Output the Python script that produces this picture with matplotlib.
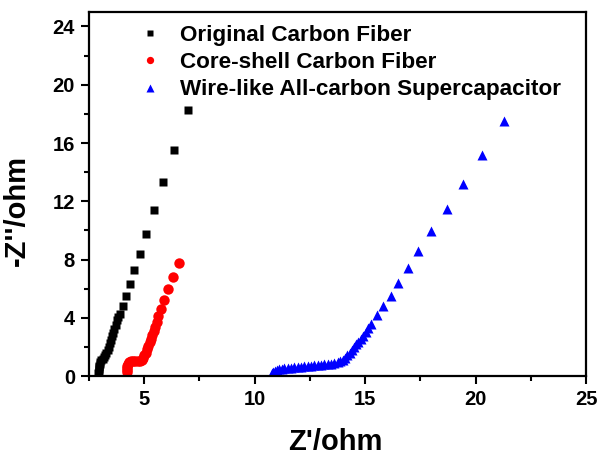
import matplotlib
matplotlib.use("Agg")
import matplotlib.pyplot as plt
from matplotlib.ticker import MultipleLocator

# Nyquist data, Z' (ohm) and -Z'' (ohm)
orig_x = [2.92, 2.93, 2.94, 2.95, 2.96, 2.98, 3.01, 3.06, 3.12, 3.18, 3.24, 3.29,
          3.34, 3.39, 3.44, 3.49, 3.54, 3.59, 3.64, 3.70, 3.76, 3.83, 3.90, 4.02,
          4.17, 4.34, 4.55, 4.79, 5.07, 5.43, 5.85, 6.35, 6.96]
orig_y = [0.22, 0.35, 0.48, 0.60, 0.72, 0.85, 0.98, 1.10, 1.20, 1.30, 1.45, 1.62,
          1.82, 2.03, 2.25, 2.48, 2.72, 2.97, 3.23, 3.52, 3.84, 4.05, 4.23, 4.78,
          5.47, 6.29, 7.30, 8.40, 9.77, 11.37, 13.29, 15.54, 18.24]

core_x = [4.20, 4.20, 4.21, 4.22, 4.25, 4.31, 4.40, 4.50, 4.60, 4.70, 4.80, 4.88,
          4.95, 5.01, 5.07, 5.13, 5.19, 5.25, 5.31, 5.37, 5.43, 5.49, 5.56, 5.62,
          5.75, 5.90, 6.08, 6.31, 6.56]
core_y = [0.25, 0.40, 0.55, 0.70, 0.85, 0.97, 1.03, 1.05, 1.05, 1.05, 1.07, 1.12,
          1.25, 1.42, 1.62, 1.85, 2.08, 2.33, 2.58, 2.84, 3.10, 3.37, 3.70, 4.12,
          4.62, 5.24, 6.00, 6.82, 7.78]

wire_x = [10.80, 10.85, 10.92, 11.00, 11.10, 11.22, 11.35, 11.50, 11.65, 11.80,
          11.95, 12.10, 12.25, 12.40, 12.55, 12.70, 12.85, 13.00, 13.15, 13.30,
          13.45, 13.60, 13.75, 13.88, 14.00, 14.10, 14.20, 14.30, 14.40, 14.50,
          14.60, 14.70, 14.81, 14.92, 15.04, 15.15, 15.26, 15.52, 15.82, 16.15,
          16.50, 16.92, 17.41, 17.99, 18.69, 19.44, 20.27, 21.30]
wire_y = [0.18, 0.28, 0.36, 0.42, 0.47, 0.51, 0.54, 0.57, 0.59, 0.61,
          0.63, 0.65, 0.67, 0.69, 0.71, 0.73, 0.75, 0.77, 0.80, 0.83,
          0.86, 0.90, 0.96, 1.03, 1.12, 1.27, 1.43, 1.61, 1.80, 1.99,
          2.17, 2.36, 2.56, 2.78, 3.01, 3.28, 3.59, 4.17, 4.78, 5.52,
          6.41, 7.41, 8.58, 9.93, 11.49, 13.20, 15.20, 17.50]

labels = ["Original Carbon Fiber", "Core-shell Carbon Fiber",
          "Wire-like All-carbon Supercapacitor"]

plt.rcParams["font.family"] = ["Liberation Sans", "DejaVu Sans"]
plt.rcParams["font.weight"] = "bold"

fig = plt.figure(figsize=(5.99, 4.57), dpi=100)
ax = fig.add_axes([0.1486, 0.177, 0.8297, 0.797])

ax.plot(orig_x, orig_y, "s", color="black", ms=6, mec="none", label=labels[0])
ax.plot(core_x, core_y, "o", color="red", ms=7.5, mec="none", label=labels[1])
ax.plot(wire_x, wire_y, "^", color="blue", ms=7.5, mec="none", label=labels[2])

ax.set_xlim(2.5, 25)
ax.set_ylim(0, 25)
ax.xaxis.set_major_locator(MultipleLocator(5))
ax.xaxis.set_minor_locator(MultipleLocator(2.5))
ax.yaxis.set_major_locator(MultipleLocator(4))
ax.yaxis.set_minor_locator(MultipleLocator(2))

for s in ax.spines.values():
    s.set_linewidth(1.6)
ax.tick_params(which="major", direction="out", length=6, width=1.5,
               labelsize=14.5, pad=4)
ax.tick_params(which="minor", direction="out", length=3.5, width=1.5)
for lab in ax.get_xticklabels() + ax.get_yticklabels():
    lab.set_fontweight("bold")

ax.set_xlabel("Z'/ohm", fontsize=21, fontweight="bold")
ax.set_ylabel("-Z''/ohm", fontsize=21, fontweight="bold")
ax.xaxis.set_label_coords(0.495, -0.142)
ax.yaxis.set_label_coords(-0.117, 0.455)

ax.legend(loc="upper left", bbox_to_anchor=(0.06, 1.02), frameon=False,
          markerscale=0.7, handlelength=1.0, handletextpad=0.8,
          labelspacing=0.28, prop={"size": 16.2, "weight": "bold"})

fig.savefig("out.png", dpi=100)
